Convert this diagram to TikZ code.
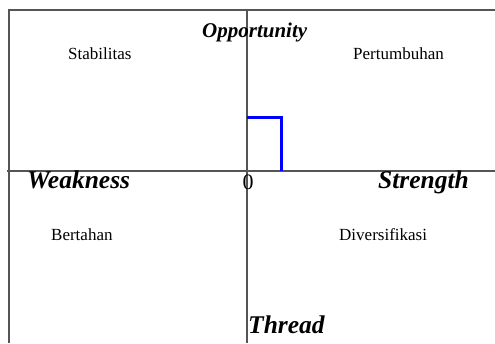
\documentclass[tikz,border=0pt]{standalone}
\usepackage{fontspec}
\setmainfont{Liberation Serif}
\definecolor{axisgray}{HTML}{555555}
\begin{document}
\begin{tikzpicture}[x=1pt,y=-1pt,
  axis/.style={draw=axisgray,line width=1.2pt},
  lbl/.style={inner sep=0pt,anchor=base west,font=\fontsize{17}{17}\selectfont},
  biglbl/.style={inner sep=0pt,anchor=base west,font=\fontsize{25.5}{25.5}\selectfont\bfseries\itshape},
  pathline/.style={draw=blue,line width=3pt}]
\useasboundingbox (0,0) rectangle (495,343);
\coordinate (tl) at (9,10);
\coordinate (tr) at (495,10);
\coordinate (bl) at (9,343);
\coordinate (vt) at (247,10);
\coordinate (vb) at (247,343);
\coordinate (hl) at (7,171);
\coordinate (hr) at (495,171);
\draw[axis] (tr) -- (tl) -- (bl);
\draw[axis] (vt) -- (vb);
\draw[axis] (hl) -- (hr);
\coordinate (p1) at (247,117);
\coordinate (p2) at (281,117);
\coordinate (p3) at (281,171);
\draw[pathline] (p1) -- (p2) -- (p3);
\node[inner sep=0pt,anchor=base west,font=\fontsize{21}{21}\selectfont\bfseries\itshape] (opp) at (202,37) {Opportunity};
\node[lbl] (stab) at (68,59) {Stabilitas};
\node[lbl] (pert) at (353,59) {Pertumbuhan};
\node[biglbl] (weak) at (27,188) {Weakness};
\node[inner sep=0pt,anchor=base,font=\fontsize{22}{22}\selectfont] (zero) at (248,189) {0};
\node[biglbl] (str) at (378,188) {Strength};
\node[lbl] (bert) at (51,240) {Bertahan};
\node[lbl] (div) at (339,240) {Diversifikasi};
\node[biglbl] (thr) at (248,333) {Thread};
\end{tikzpicture}
\end{document}
